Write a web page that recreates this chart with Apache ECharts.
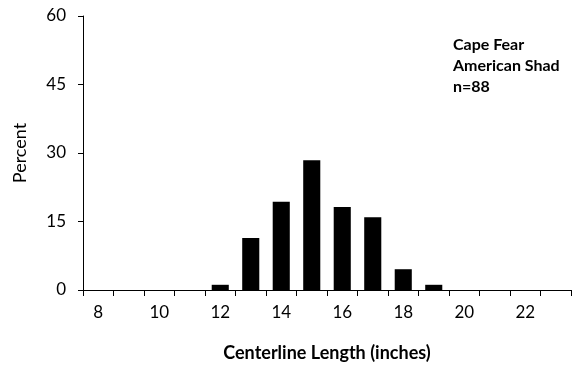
<!DOCTYPE html>
<html>
<head>
<meta charset="utf-8">
<script src="https://cdn.jsdelivr.net/npm/echarts@6/dist/echarts.min.js"></script>
<style>
  html, body { margin: 0; padding: 0; background: #fff; }
  #chart { width: 572px; height: 370px; }
</style>
</head>
<body>
<div id="chart"></div>
<script>
var lengths = ['8','9','10','11','12','13','14','15','16','17','18','19','20','21','22','23'];
var percent = [0, 0, 0, 0, 1.14, 11.36, 19.32, 28.41, 18.18, 15.91, 4.55, 1.14, 0, 0, 0, 0];
var yTicks = [0, 15, 30, 45, 60];

var chartDom = document.getElementById('chart');
var myChart = echarts.init(chartDom);
var fontFam = 'Lato, "Liberation Sans", sans-serif';
var option = {
    backgroundColor: '#fff',
    animation: false,
    title: {
        text: 'Cape Fear\nAmerican Shad\nn=88',
        left: 448,
        top: 29,
        textStyle: {
            fontFamily: fontFam,
            fontSize: 16,
            fontWeight: 'bold',
            color: '#000',
            lineHeight: 21
        }
    },
    grid: {
        left: 83,
        right: 1,
        top: 16,
        bottom: 80,
        containLabel: false,
        outerBoundsMode: 'none'
    },
    xAxis: {
        type: 'category',
        data: lengths,
        boundaryGap: true,
        name: 'Centerline Length (inches)',
        nameLocation: 'middle',
        nameGap: 54,
        nameTextStyle: {
            fontFamily: fontFam,
            fontSize: 18,
            fontWeight: 'bold',
            color: '#000'
        },
        axisLine: { lineStyle: { color: '#000', width: 1 } },
        axisTick: { show: true, interval: 0, length: 6, lineStyle: { color: '#000' } },
        axisLabel: {
            interval: 1,
            margin: 14,
            fontFamily: fontFam,
            fontSize: 17,
            color: '#000'
        }
    },
    yAxis: {
        type: 'value',
        min: yTicks[0],
        max: yTicks[yTicks.length - 1],
        interval: 15,
        name: 'Percent',
        nameLocation: 'middle',
        nameGap: 54,
        nameRotate: 90,
        nameTextStyle: {
            fontFamily: fontFam,
            fontSize: 18,
            color: '#000'
        },
        axisLine: { show: true, lineStyle: { color: '#000', width: 1 } },
        axisTick: { show: true, length: 5, lineStyle: { color: '#000' } },
        splitLine: { show: false },
        axisLabel: {
            margin: 17,
            fontFamily: fontFam,
            fontSize: 17,
            color: '#000'
        }
    },
    series: [{
        type: 'bar',
        data: percent,
        barWidth: '56%',
        itemStyle: { color: '#000' }
    }]
};
myChart.setOption(option);
</script>
</body>
</html>
